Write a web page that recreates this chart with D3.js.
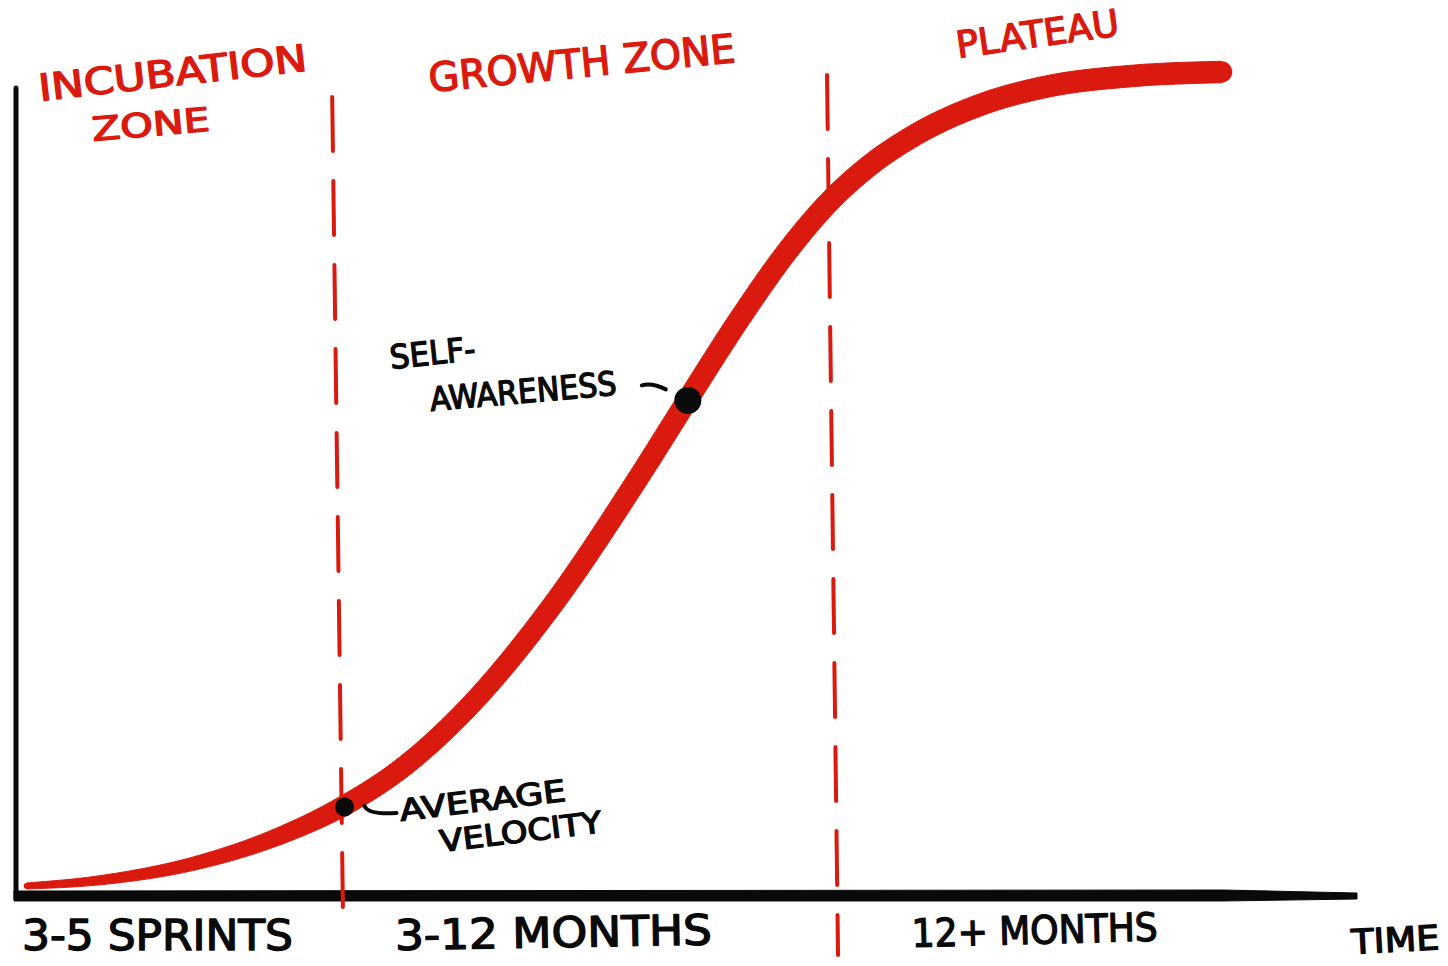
<!DOCTYPE html>
<html>
<head>
<meta charset="utf-8">
<script src="https://cdn.jsdelivr.net/npm/d3@7"></script>
<style>
  html, body { margin: 0; padding: 0; background: #fff; }
  text { font-family: "DejaVu Sans Condensed", "Liberation Sans Narrow", "DejaVu Sans", sans-serif; font-weight: normal; stroke-width: 1.3px; stroke-linejoin: round; }
</style>
</head>
<body>
<script>
// S-curve, time on x (0-100), progress on y (0-100)
var curveTime  = [0.8, 6.3, 13.7, 19.7, 24.4, 28.6, 33.9, 40.0, 46.3, 50.1, 54.0, 57.7, 60.4, 63.7, 67.0, 71.9, 77.1, 83.1, 89.9];
var curveLevel = [1.1, 1.8, 4.0, 7.2, 10.8, 15.2, 23.1, 35.2, 50.4, 60.2, 70.1, 78.6, 83.8, 88.7, 92.3, 96.0, 98.3, 99.5, 100];

var zoneBounds     = [24.4, 61.3];
var zoneNames      = [["INCUBATION", "ZONE"], ["GROWTH ZONE"], ["PLATEAU"]];
var durationLabels = ["3-5 SPRINTS", "3-12 MONTHS", "12+ MONTHS"];
var axisLabel      = "TIME";

var markerNames = [["AVERAGE", "VELOCITY"], ["SELF-", "AWARENESS"]];
var markerTime  = [24.5, 50.1];
var markerLevel = [10.7, 60.1];

var width  = 1448;
var height = 966;
var red    = "#da1a0e";
var ink    = "#0a0a0a";

var x = d3.scaleLinear().domain([0, 100]).range([16, 1357]);
var y = d3.scaleLinear().domain([0, 100]).range([895, 72]);

var svg = d3.select("body")
    .append("svg")
    .attr("width", width)
    .attr("height", height);

// axes (hand drawn look: vertical thin, horizontal thick then tapering)
svg.append("path")
    .attr("d", "M" + x(0) + "," + 88 + " L" + x(0) + "," + 898)
    .attr("stroke", ink)
    .attr("stroke-width", 5)
    .attr("stroke-linecap", "round");

var axY = y(0) + 1;
var taper = [[x(0) - 2, axY - 5], [x(90), axY - 6], [x(100), axY - 3], [x(100), axY + 3], [x(90), axY + 5], [x(0) - 2, axY + 5]];
svg.append("path")
    .attr("d", d3.line()(taper) + "Z")
    .attr("fill", ink)
    .attr("stroke", ink)
    .attr("stroke-width", 1)
    .attr("stroke-linejoin", "round");

// dashed zone dividers, slightly leaning
var dividerTop    = [97, 75];
var dividerBottom = [930, 955];
zoneBounds.forEach(function (t, i) {
    svg.append("line")
        .attr("x1", x(t) - 11)
        .attr("y1", dividerTop[i])
        .attr("x2", x(t))
        .attr("y2", dividerBottom[i])
        .attr("stroke", red)
        .attr("stroke-width", 4)
        .attr("stroke-linecap", "round")
        .attr("stroke-dasharray", "54 30");
});

// the s-curve, drawn as a tapered ribbon
var pts = curveTime.map(function (t, i) { return [x(t), y(curveLevel[i])]; });
var guide = svg.append("path")
    .attr("d", d3.line().curve(d3.curveMonotoneX)(pts))
    .attr("fill", "none")
    .attr("stroke", "none");

var g = guide.node();
var L = g.getTotalLength();
var N = 500;
var left = [], right = [];
for (var i = 0; i <= N; i++) {
    var s  = L * i / N;
    var p  = g.getPointAtLength(s);
    var p0 = g.getPointAtLength(Math.max(0, s - 6));
    var p1 = g.getPointAtLength(Math.min(L, s + 6));
    var dx = p1.x - p0.x, dy = p1.y - p0.y;
    var len = Math.sqrt(dx * dx + dy * dy) || 1;
    var nx = -dy / len, ny = dx / len;
    var w = s < 330 ? 6 + 14 * s / 330 : 20 + 1.5 * Math.min(1, (s - 330) / 900);
    left.push([p.x + nx * w / 2, p.y + ny * w / 2]);
    right.push([p.x - nx * w / 2, p.y - ny * w / 2]);
}
svg.append("path")
    .attr("d", d3.line()(left.concat(right.reverse())) + "Z")
    .attr("fill", red)
    .attr("stroke", red)
    .attr("stroke-width", 1);
var endPt = g.getPointAtLength(L);
svg.append("circle").attr("cx", endPt.x).attr("cy", endPt.y).attr("r", 10.7).attr("fill", red);
var startPt = g.getPointAtLength(0);
svg.append("circle").attr("cx", startPt.x).attr("cy", startPt.y).attr("r", 3).attr("fill", red);

// markers on the curve
var markerR = [9.5, 13.5];
markerTime.forEach(function (t, i) {
    svg.append("circle")
        .attr("cx", x(t))
        .attr("cy", y(markerLevel[i]))
        .attr("r", markerR[i])
        .attr("fill", ink);
});

// little leader strokes
var m0x = x(markerTime[0]), m0y = y(markerLevel[0]);
svg.append("path")
    .attr("d", "M" + (m0x + 20) + "," + (m0y - 1) + " Q" + (m0x + 24) + "," + (m0y + 8) + " " + (m0x + 52) + "," + (m0y + 6))
    .attr("fill", "none").attr("stroke", ink).attr("stroke-width", 4).attr("stroke-linecap", "round");
var m1x = x(markerTime[1]), m1y = y(markerLevel[1]);
svg.append("path")
    .attr("d", "M" + (m1x - 46) + "," + (m1y - 15) + " Q" + (m1x - 36) + "," + (m1y - 18) + " " + (m1x - 22) + "," + (m1y - 11))
    .attr("fill", "none").attr("stroke", ink).attr("stroke-width", 4).attr("stroke-linecap", "round");

function label(txt, px, py, size, len, rot, color) {
    svg.append("text")
        .attr("transform", "translate(" + px + "," + py + ") rotate(" + rot + ")")
        .attr("font-size", size)
        .attr("textLength", len)
        .attr("lengthAdjust", "spacingAndGlyphs")
        .attr("fill", color)
        .attr("stroke", color)
        .text(txt);
}

// zone titles
label(zoneNames[0][0], 40, 101, 37, 270, -6.5, red);
label(zoneNames[0][1], 93, 141, 33, 118, -5, red);
label(zoneNames[1][0], 430, 92, 40, 308, -5.6, red);
label(zoneNames[2][0], 958, 58, 37, 164, -8, red);

// durations under the axis
label(durationLabels[0], x(0) + 6, 950, 42, 271, 0, ink);
label(durationLabels[1], x(zoneBounds[0]) + 52, 950, 42, 317, -1, ink);
label(durationLabels[2], x(zoneBounds[1]) + 74, 947, 39, 246, -1.5, ink);
label(axisLabel, 1352, 954, 34, 88, -3, ink);

// marker captions
label(markerNames[1][0], 391, 369, 33, 86, -6, ink);
label(markerNames[1][1], 431, 411, 33, 187, -5, ink);
label(markerNames[0][0], 401, 821, 30, 167, -7, ink);
label(markerNames[0][1], 441, 852, 30, 163, -7, ink);
</script>
</body>
</html>
